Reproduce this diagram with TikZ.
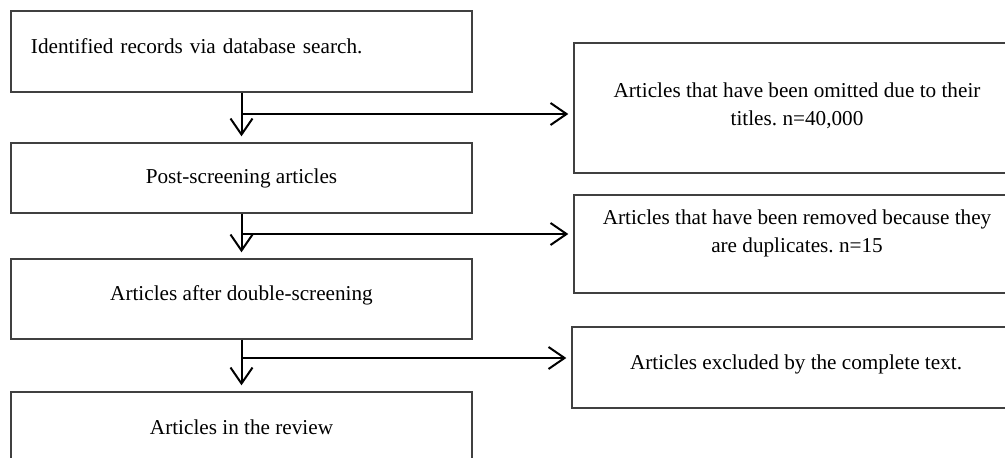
\documentclass[tikz,border=0pt]{standalone}
\usepackage{fontspec}
\setmainfont{Liberation Serif}
\usetikzlibrary{calc,arrows.meta}
\frenchspacing

\begin{document}
\begin{tikzpicture}[x=0.5pt,y=-0.5pt,
  box/.style={draw=black!75, line width=0.7pt, minimum width=230.5pt, font=\fontsize{10.6}{14}\selectfont, align=center},
  side/.style={box, minimum width=223pt},
  upper/.style={text height=7.4pt, text depth=5.4pt},
  arr/.style={line width=1pt, shorten >=2.5pt, -{Straight Barb[length=8pt,width=11pt]}}]
\useasboundingbox (0,0) rectangle (1005,458);
\clip (0,0) rectangle (1005,458);

% main column
\node[box, upper, text width=210.5pt, inner xsep=10pt, align=left, minimum height=40.5pt] (rec) at (241.5,51.5) {Identified records via database search.};
\node[box, minimum height=35pt] (post) at (241.5,178) {Post-screening articles};
\node[box, upper, minimum height=40pt] (dbl) at (241.5,299) {Articles after double-screening};
\node[box, upper, minimum height=40.5pt] (rev) at (241.5,432.5) {Articles in the review};

% excluded
\node[side, minimum height=65pt, text height=21.4pt, text depth=4.2pt] (omit) at (797,108) {Articles that have been omitted due to their\\ titles. n=40,000};
\node[side, minimum height=49pt, text height=21.4pt, text depth=12.7pt] (dup) at (797,244) {Articles that have been removed because they\\ are duplicates. n=15};
\node[side, upper, minimum width=224pt, minimum height=40.5pt] (full) at (796,367.5) {Articles excluded by the complete text.};

\coordinate (s1) at (241.5,114);
\coordinate (s2) at (241.5,234);
\coordinate (s3) at (241.5,358);

\draw[arr] (rec.south) -- ($(post.north)+(0,-1)$);
\draw[arr] (post.south) -- ($(dbl.north)+(0,-1)$);
\draw[arr] (dbl.south) -- ($(rev.north)+(0,-1)$);
\draw[arr] (s1) -- (s1 -| omit.west);
\draw[arr] (s2) -- (s2 -| dup.west);
\draw[arr] (s3) -- (s3 -| full.west);
\end{tikzpicture}
\end{document}
